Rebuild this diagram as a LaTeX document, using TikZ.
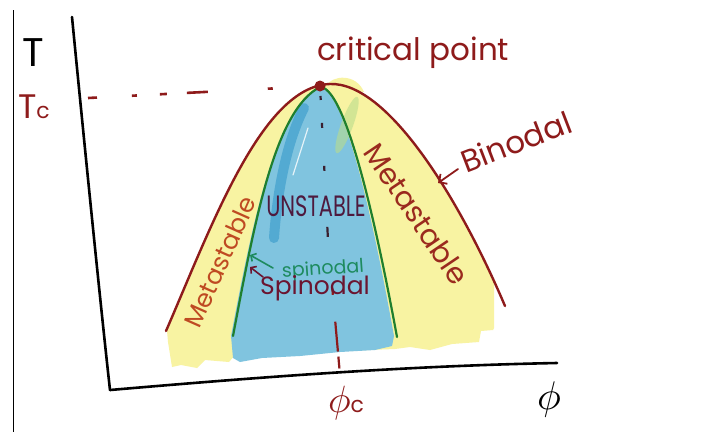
\documentclass[tikz,border=0pt]{standalone}
\usepackage{fontspec}
\setmainfont{Poppins}
\usetikzlibrary{arrows.meta}

\definecolor{binred}{HTML}{8E1B1B}
\definecolor{metaorange}{HTML}{BF4A22}
\definecolor{metared}{HTML}{9A2A1E}
\definecolor{spingreen}{HTML}{1F7F2E}
\definecolor{spinteal}{HTML}{1E8B5F}
\definecolor{fillyellow}{HTML}{F8F3A2}
\definecolor{fillblue}{HTML}{80C4DF}
\definecolor{deepblue}{HTML}{4CA6D0}
\definecolor{leafgreen}{HTML}{B9DC8C}
\definecolor{plum}{HTML}{4E1A3E}
\definecolor{maroon}{HTML}{6B1530}
\definecolor{inkdark}{HTML}{3A2030}

\newcommand{\fs}[1]{\fontsize{#1}{#1}\selectfont}

\begin{document}
\begin{tikzpicture}[x=1pt, y=-1pt, line join=round,
  axis/.style={draw=black, line width=2.6pt, line cap=round},
  curve/.style={line width=2.4pt, line cap=round},
  label/.style={inner sep=0pt, outer sep=0pt},
  barb/.style={line width=1.8pt, line cap=round, -{Straight Barb[length=6pt,width=12pt]}},
  smallbarb/.style={line width=1.6pt, line cap=round, -{Straight Barb[length=4pt,width=9pt]}}]
\useasboundingbox (0,0) rectangle (714,432);
\fill[white] (0,0) rectangle (714,432);

% thin frame line on the left edge
\draw[black, line width=1pt] (13,10) -- (13,432);

% metastable band (yellow), cut off short of the binodal's right foot
\begin{scope}
  \clip (0,0) rectangle (494,432);
  \fill[fillyellow] (172,367) -- (168,342) -- (167,331)
    .. controls (212,225) and (262,86) .. (330,84)
    .. controls (388,82) and (460,200) .. (505,306)
    -- (493,330) -- (481,331) -- (479,342) -- (452,344) -- (430,350) -- (410,347) -- (395,349)
    -- (235,355) -- (229,362) -- (205,360) -- (197,368) -- (181,365) -- cycle;
\end{scope}
\fill[fillyellow] (326,86) .. controls (332,75) and (356,73) .. (364,92) -- cycle;

% unstable region (blue)
\fill[fillblue] (231,336)
  .. controls (253,220) and (275,110) .. (320,88)
  .. controls (340,88) and (366,180) .. (394,336)
  -- (392,346) -- (375,350) -- (340,352) -- (300,356) -- (262,358) -- (240,362) -- (233,358) -- cycle;
\draw[deepblue, line width=10pt, line cap=round, opacity=0.85]
  (304,108) .. controls (290,135) and (278,180) .. (274,238);
\draw[white, line width=1.2pt, opacity=0.8, line cap=round] (308,128) -- (293,175);
\fill[leafgreen, opacity=0.6, rotate around={-20:(347,125)}] (347,125) ellipse (6 and 30);

% axes
\coordinate (ytop) at (72,17);
\coordinate (origin) at (110,390);
\coordinate (xend) at (557,363);
\draw[axis] (ytop) .. controls (84,140) and (100,300) .. (origin);
\draw[axis] (origin) .. controls (250,378) and (400,366) .. (xend);

% binodal and spinodal curves
\draw[curve, binred] (166,331)
  .. controls (212,225) and (262,86) .. (330,84)
  .. controls (388,82) and (460,200) .. (505,306);
\draw[curve, spingreen, line width=2.2pt] (233,336)
  .. controls (255,220) and (275,110) .. (320,87)
  .. controls (341,87) and (368,180) .. (397,337);

% critical point
\node[circle, fill=binred, inner sep=0pt, minimum size=11pt] (cp) at (320,86) {};

% T_c guide line
\coordinate (tcstart) at (88,98);
\draw[binred, line width=2.6pt, line cap=butt,
  dash pattern=on 9pt off 35pt on 5pt off 23pt on 7pt off 20pt on 21pt off 60pt on 5pt off 100pt]
  (tcstart) -- (cp.center);

% phi_c guide line
\coordinate (vmid) at (328,240);
\coordinate (vend) at (340,375);
\draw[inkdark, line width=2.2pt, line cap=butt,
  dash pattern=on 0pt off 10pt on 4pt off 23pt on 5pt off 38pt on 5pt off 56pt on 10pt off 20pt]
  (cp.center) -- (vmid);
\draw[binred, line width=2.2pt, line cap=butt,
  dash pattern=on 0pt off 48pt on 7pt off 27pt on 30pt off 5pt on 12pt off 20pt]
  (vmid) -- (vend);

% axis labels
\node[label, black] (tlab) at (33,53) {\fs{40}T};
\node[label, binred, anchor=base west] (tclab) at (18,118) {\fs{34}T\fs{22}c};
\node[label, binred] (phiclab) at (346,403) {\scalebox{3.8}{$\phi$}\fs{22}c};
\node[label, black] (philab) at (549,399) {\scalebox{4}{$\phi$}};

% region and curve labels
\node[label, binred, anchor=base west] (critlab) at (317,60) {\fs{31}critical point};
\node[label, binred, anchor=base west, rotate=21] (binlab) at (466,173) {\fs{31}Binodal};
\coordinate (bintail) at (458,169);
\coordinate (bintip) at (438,183);
\draw[barb, binred] (bintail) -- (bintip);

\node[label, metaorange, rotate=66] (metaleft) at (220,262) {\fs{25}Metastable};
\node[label, metared, rotate=-56] (metaright) at (417,214) {\fs{29}Metastable};

\node[label, plum] (unstable) at (316,206) {\scalebox{1}[1.4]{\fs{21}UNSTABLE}};
\node[label, spinteal, rotate=4] (spingreen) at (323,270) {\fs{19}spinodal};
\node[label, maroon] (spinlab) at (315,288) {\fs{25}Spinodal};

\coordinate (gtail) at (273,268);
\coordinate (gtip) at (250,255);
\coordinate (mtail) at (263,277);
\coordinate (mtip) at (250,267);
\draw[smallbarb, spinteal] (gtail) -- (gtip);
\draw[smallbarb, maroon] (mtail) -- (mtip);
\end{tikzpicture}
\end{document}
